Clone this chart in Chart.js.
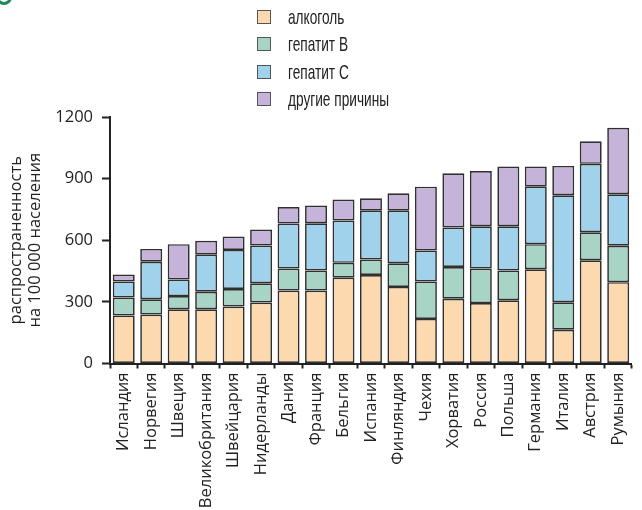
<!DOCTYPE html>
<html><head><meta charset="utf-8">
<script src="https://cdn.jsdelivr.net/npm/chart.js@4"></script>
<style>
html,body{margin:0;padding:0;background:#fff;}
#wrap{position:relative;width:642px;height:510px;overflow:hidden;}
#legend{position:absolute;left:257px;top:3px;font-family:'Liberation Sans Narrow','Liberation Sans','DejaVu Sans Condensed',sans-serif;font-stretch:condensed;font-size:21px;color:#222;}
.item{display:flex;align-items:center;height:27.5px;white-space:nowrap;}
.box{flex:none;width:12px;height:12px;border:1.5px solid #555;margin-right:17px;}
.txt{display:inline-block;transform-origin:left center;}
#mark{position:absolute;left:-4px;top:-11px;width:10px;height:10px;border:3px solid #1e8a5e;border-radius:50%;}
</style></head><body>
<div id="wrap"><canvas id="c" width="642" height="510"></canvas><div id="legend"></div><div id="mark"></div></div>
<script>
const categories = ['Исландия','Норвегия','Швеция','Великобритания','Швейцария','Нидерланды','Дания','Франция','Бельгия','Испания','Финляндия','Чехия','Хорватия','Россия','Польша','Германия','Италия','Австрия','Румыния'];
const alcohol   = [234,238,264,264,277,297,355,355,418,431,373,217,315,294,308,459,164,503,396];
const hepatitisB = [87,75,64,85,86,94,107,98,72,75,115,182,155,168,145,122,134,136,177];
const hepatitisC = [78,182,81,181,190,183,219,230,206,238,256,151,192,206,215,280,521,333,251];
const otherCauses = [34,63,172,67,65,78,81,86,102,60,85,311,264,269,291,98,143,110,324];
const seriesNames = ['алкоголь','гепатит B','гепатит C','другие причины'];
const seriesColors = ['#FDD9B0','#A8D4C5','#A0D3EB','#C5B3D9'];
const yTicks = [0,300,600,900,1200];
const yTitle = ['распространенность','на 100 000 населения'];

const AXFONT = "'Open Sans','DejaVu Sans',sans-serif";
const seriesValues = [alcohol, hepatitisB, hepatitisC, otherCauses];
const datasets = seriesValues.map((v,i)=>({
  label: seriesNames[i], data: v, backgroundColor: seriesColors[i],
  borderColor: 'rgba(25,25,25,0.9)', borderWidth: 1.7, borderSkipped: false,
  barPercentage: 0.8, categoryPercentage: 1.0
}));

// legend (real text), horizontally condensed to match the narrow face of the original
const leg = document.getElementById('legend');
const spans = [];
seriesNames.forEach((n,i)=>{
  const d = document.createElement('div'); d.className='item';
  const b = document.createElement('span'); b.className='box'; b.style.background=seriesColors[i];
  const t = document.createElement('span'); t.className='txt'; t.textContent = n;
  d.appendChild(b); d.appendChild(t); leg.appendChild(d); spans.push(t);
});
function fitLegend(){
  const w = spans[3].getBoundingClientRect().width / (spans[3]._s || 1);
  const s = 101 / w;
  spans.forEach(t=>{ t._s = s; t.style.transform = 'scaleX(' + s + ')'; });
}
fitLegend();
if (document.fonts && document.fonts.ready) document.fonts.ready.then(fitLegend);

new Chart(document.getElementById('c'), {
  type: 'bar',
  data: { labels: categories, datasets },
  options: {
    responsive: false, animation: false,
    layout: { padding: { top: 117, left: 0, right: -2, bottom: 0 } },
    plugins: { legend: { display: false }, tooltip: { enabled: false } },
    scales: {
      x: {
        stacked: true,
        afterFit: (s)=>{ s.height = 146.5; },
        grid: { offset: true, drawOnChartArea: false, tickLength: 5, color: '#222', tickWidth: 2 },
        border: { color: '#222', width: 2 },
        ticks: { color: '#222', font: { family: AXFONT, size: 16.5 }, minRotation: 90, maxRotation: 90, autoSkip: false, padding: 4 }
      },
      y: {
        stacked: true, min: 0, max: 1200,
        afterBuildTicks: (s)=>{ s.ticks = yTicks.map(v=>({value:v})); },
        afterFit: (s)=>{ s.width = 110; },
        grid: { drawOnChartArea: false, tickLength: 8, color: '#222', tickWidth: 2 },
        border: { color: '#222', width: 2 },
        ticks: { color: '#222', font: { family: AXFONT, size: 16.5 }, padding: 9, callback: (v)=>String(v) },
        title: { display: true, text: yTitle, color: '#222', font: { family: AXFONT, size: 16.5, lineHeight: 1.15 }, padding: { top: 7, bottom: 4 } }
      }
    }
  }
});
</script>
</body></html>
